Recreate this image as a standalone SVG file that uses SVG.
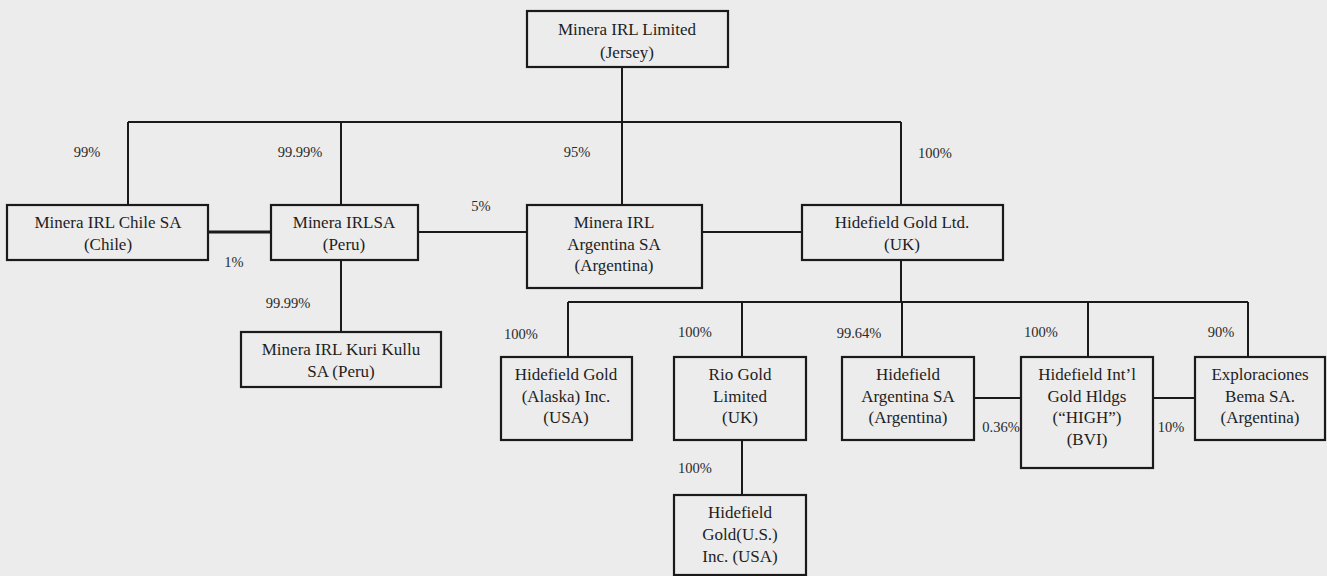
<svg xmlns="http://www.w3.org/2000/svg" width="1327" height="576" viewBox="0 0 1327 576">
<style>
.bg{fill:#ececec}
.box{fill:#ececec;stroke:#1a1a1a;stroke-width:2.2}
.ln{stroke:#1a1a1a;stroke-width:2;fill:none}
.thk{stroke-width:3}
.t{font-family:'Liberation Serif','Times New Roman',serif;font-size:17px;fill:#1e1e1e;text-anchor:middle}
.p{font-family:'Liberation Serif','Times New Roman',serif;font-size:14.5px;fill:#2a2a2a;text-anchor:middle}
</style>
<rect class="bg" x="0" y="0" width="1327" height="576"/>
<g id="connectors">
<path class="ln" d="M622 67V122M128 122H901M128 122V205M341 122V205M622 122V205M901 122V205"/>
<path class="ln thk" d="M208 232H271"/>
<path class="ln" d="M418 232H527M702 232H802"/>
<path class="ln" d="M341 260V332"/>
<path class="ln" d="M901 260V302M568 302H1248M568 302V357M742 302V357M902 302V357M1088 302V357M1248 302V357"/>
<path class="ln" d="M974 398H1021M1153 398H1195"/>
<path class="ln" d="M742 440V495"/>
</g>
<g id="labels">
<text class="p" x="87" y="157">99%</text>
<text class="p" x="300" y="157">99.99%</text>
<text class="p" x="577" y="157">95%</text>
<text class="p" x="935" y="158">100%</text>
<text class="p" x="481" y="211">5%</text>
<text class="p" x="234" y="267">1%</text>
<text class="p" x="288" y="308">99.99%</text>
<text class="p" x="521" y="339">100%</text>
<text class="p" x="695" y="337">100%</text>
<text class="p" x="859" y="338">99.64%</text>
<text class="p" x="1041" y="337">100%</text>
<text class="p" x="1221" y="337">90%</text>
<text class="p" x="1001" y="432">0.36%</text>
<text class="p" x="1171" y="432">10%</text>
<text class="p" x="695" y="473">100%</text>
</g>
<g id="n-jersey"><rect class="box" x="527" y="11" width="201" height="56"/><text class="t" x="627" y="35">Minera IRL Limited</text><text class="t" x="627" y="58">(Jersey)</text></g>
<g id="n-chile"><rect class="box" x="7" y="205" width="201" height="55"/><text class="t" x="108" y="228">Minera IRL Chile SA</text><text class="t" x="108" y="250">(Chile)</text></g>
<g id="n-peru"><rect class="box" x="271" y="205" width="147" height="55"/><text class="t" x="344" y="228">Minera IRLSA</text><text class="t" x="344" y="250">(Peru)</text></g>
<g id="n-argentina"><rect class="box" x="527" y="205" width="175" height="83"/><text class="t" x="614" y="228">Minera IRL</text><text class="t" x="614" y="250">Argentina SA</text><text class="t" x="614" y="271">(Argentina)</text></g>
<g id="n-hidefield"><rect class="box" x="802" y="205" width="201" height="55"/><text class="t" x="902" y="228">Hidefield Gold Ltd.</text><text class="t" x="902" y="250">(UK)</text></g>
<g id="n-kurikullu"><rect class="box" x="241" y="332" width="200" height="55"/><text class="t" x="341" y="355">Minera IRL Kuri Kullu</text><text class="t" x="341" y="377">SA (Peru)</text></g>
<g id="n-alaska"><rect class="box" x="501" y="357" width="131" height="83"/><text class="t" x="566" y="380">Hidefield Gold</text><text class="t" x="566" y="402">(Alaska) Inc.</text><text class="t" x="566" y="423">(USA)</text></g>
<g id="n-riogold"><rect class="box" x="674" y="357" width="132" height="83"/><text class="t" x="740" y="380">Rio Gold</text><text class="t" x="740" y="402">Limited</text><text class="t" x="740" y="423">(UK)</text></g>
<g id="n-hidarg"><rect class="box" x="842" y="357" width="132" height="83"/><text class="t" x="908" y="380">Hidefield</text><text class="t" x="908" y="402">Argentina SA</text><text class="t" x="908" y="423">(Argentina)</text></g>
<g id="n-high"><rect class="box" x="1021" y="357" width="132" height="111"/><text class="t" x="1087" y="380">Hidefield Int’l</text><text class="t" x="1087" y="402">Gold Hldgs</text><text class="t" x="1087" y="423">(“HIGH”)</text><text class="t" x="1087" y="445">(BVI)</text></g>
<g id="n-bema"><rect class="box" x="1195" y="357" width="130" height="83"/><text class="t" x="1260" y="380">Exploraciones</text><text class="t" x="1260" y="402">Bema SA.</text><text class="t" x="1260" y="423">(Argentina)</text></g>
<g id="n-hidus"><rect class="box" x="674" y="495" width="132" height="80"/><text class="t" x="740" y="518">Hidefield</text><text class="t" x="740" y="540">Gold(U.S.)</text><text class="t" x="740" y="562">Inc. (USA)</text></g>
</svg>
